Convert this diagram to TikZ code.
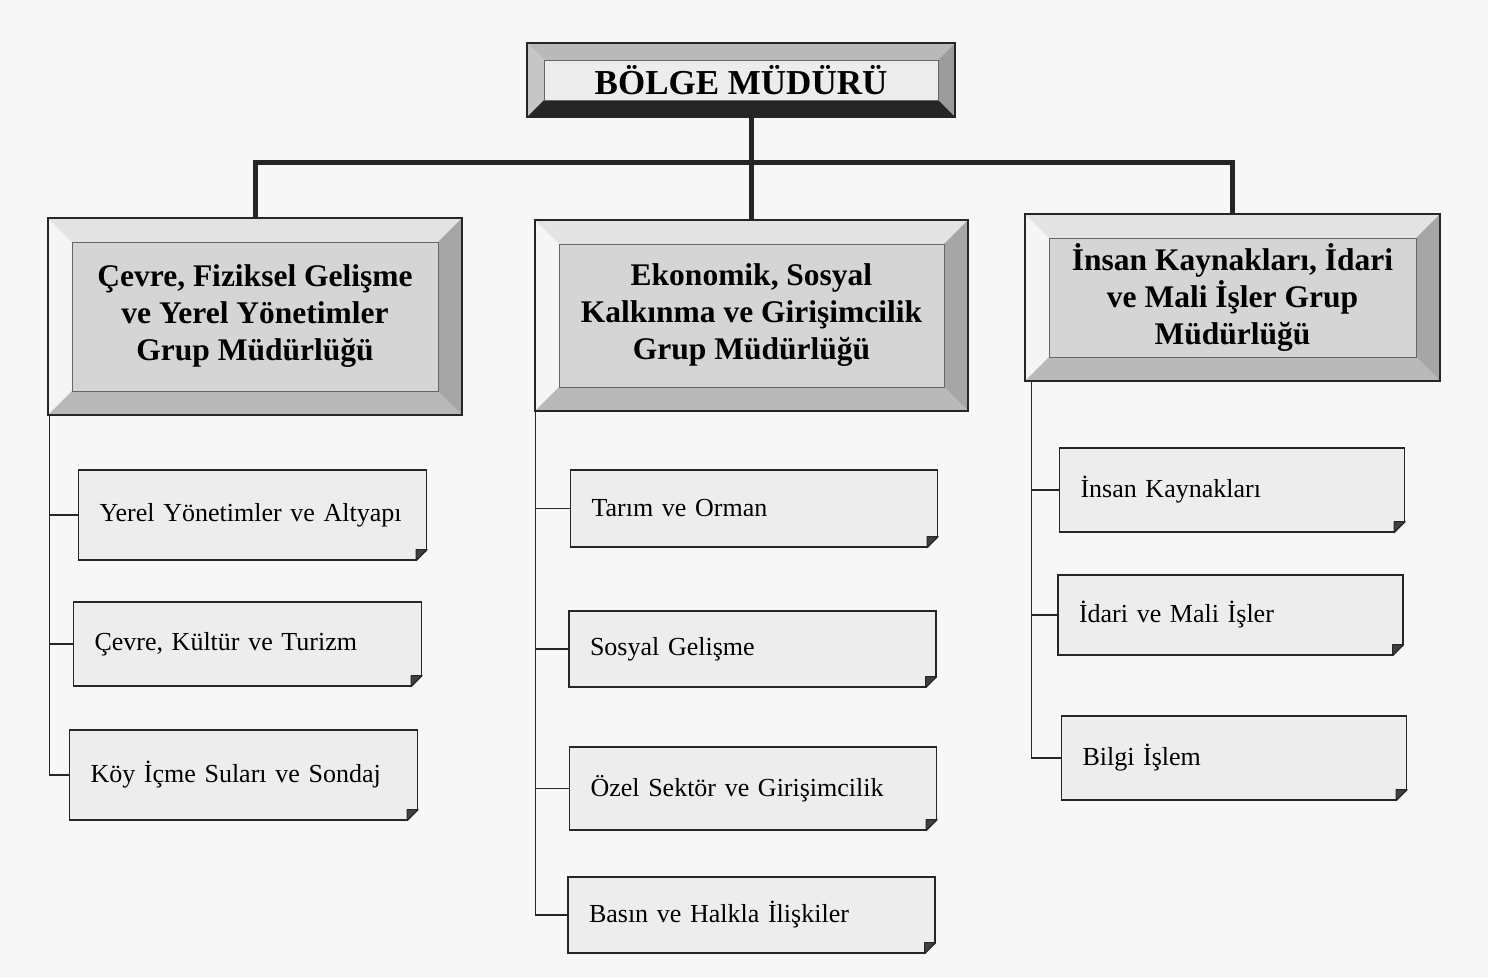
\documentclass[tikz,border=0pt]{standalone}
\usepackage{fontspec}
\setmainfont{Liberation Serif}
\usetikzlibrary{positioning,calc}
\tikzset{
    bevel/.style n args={5}{draw=black!85, line width=1.2pt, inner sep=0pt, align=center,
        path picture={
            \path (path picture bounding box.north west) coordinate (nw)
                  (path picture bounding box.north east) coordinate (ne)
                  (path picture bounding box.south west) coordinate (sw)
                  (path picture bounding box.south east) coordinate (se);
            \fill[#2] (nw) -- (ne) -- ([shift={(-#1,-#1)}]ne) -- ([shift={(#1,-#1)}]nw) -- cycle;
            \fill[#3] (nw) -- (sw) -- ([shift={(#1,#1)}]sw) -- ([shift={(#1,-#1)}]nw) -- cycle;
            \fill[#4] (ne) -- (se) -- ([shift={(-#1,#1)}]se) -- ([shift={(-#1,-#1)}]ne) -- cycle;
            \fill[#5] (sw) -- (se) -- ([shift={(-#1,#1)}]se) -- ([shift={(#1,#1)}]sw) -- cycle;
            \draw[black!60, line width=0.6pt] ([shift={(#1,-#1)}]nw) rectangle ([shift={(-#1,#1)}]se);
        }},
    topbox/.style={bevel={17pt}{gray!55}{gray!45}{gray!78}{black!85}, fill=gray!15,
        font=\bfseries\fontsize{35}{42}\selectfont},
    groupbox/.style={bevel={24pt}{gray!22}{gray!8}{gray!70}{gray!55}, fill=gray!33,
        font=\bfseries\fontsize{31.5}{37}\selectfont},
    subbox/.style={draw=black!85, line width=1.2pt, fill=gray!14, inner xsep=21pt, align=left,
        font=\fontsize{26}{31}\selectfont},
    colA/.style={subbox, text width=306pt},
    colB/.style={subbox, text width=325pt},
    colC/.style={subbox, text width=303pt},
    mainline/.style={line width=5pt, black!85},
    branch/.style={line width=1.6pt, black!85}
}
\begin{document}
\begin{tikzpicture}[x=1pt, y=-1pt]
\fill[white!97!black] (0,0) rectangle (1488,978);
\useasboundingbox (0,0) rectangle (1488,978);

% top
\node[topbox, minimum width=428pt, minimum height=74pt] (BM) at (741,80) {BÖLGE MÜDÜRÜ};

% group directorates
\node[groupbox, minimum width=414pt, minimum height=197pt] (G1) at (255,316.5)
    {Çevre, Fiziksel Gelişme\\ve Yerel Yönetimler\\Grup Müdürlüğü};
\node[groupbox, minimum width=433pt, minimum height=191pt] (G2) at (751.5,315.5)
    {Ekonomik, Sosyal\\Kalkınma ve Girişimcilik\\Grup Müdürlüğü};
\node[groupbox, minimum width=415pt, minimum height=167pt] (G3) at (1232.5,297.5)
    {İnsan Kaynakları, İdari\\ve Mali İşler Grup\\Müdürlüğü};

\coordinate (bar) at (750,162);
\draw[mainline] (G2.north) -- (G2.north |- BM.south);
\draw[mainline] (G2.north |- bar) -| (G1.north);
\draw[mainline] (G2.north |- bar) -| (G3.north);

% units
\node[colA, minimum height=90pt] (S11) at (252.5,515) {Yerel Yönetimler ve Altyapı};
\node[colA, minimum height=84pt] (S12) at (247.5,644) {Çevre, Kültür ve Turizm};
\node[colA, minimum height=90pt] (S13) at (243.5,775) {Köy İçme Suları ve Sondaj};

\node[colB, minimum height=77pt] (S21) at (754,508.5) {Tarım ve Orman};
\node[colB, minimum height=76pt] (S22) at (752.5,649) {Sosyal Gelişme};
\node[colB, minimum height=83pt] (S23) at (753,788.5) {Özel Sektör ve Girişimcilik};
\node[colB, minimum height=76pt] (S24) at (751.5,915) {Basın ve Halkla İlişkiler};

\node[colC, minimum height=84pt] (S31) at (1232,490) {İnsan Kaynakları};
\node[colC, minimum height=80pt] (S32) at (1230.5,615) {İdari ve Mali İşler};
\node[colC, minimum height=84pt] (S33) at (1234,758) {Bilgi İşlem};

% folded corners
\foreach \s in {S11,S12,S13,S21,S22,S23,S24,S31,S32,S33} {
    \fill[white!97!black] ([shift={(1pt,11pt)}]\s.south east) -- ([shift={(-11pt,-1pt)}]\s.south east)
        -- ([shift={(1pt,-1pt)}]\s.south east) -- cycle;
    \filldraw[fill=black!75, draw=black!85, line width=1.2pt, line join=round]
        ([yshift=11pt]\s.south east) -- ([shift={(-11pt,11pt)}]\s.south east)
        -- ([xshift=-11pt]\s.south east) -- cycle;
}

\foreach \s in {S11,S12,S13}
    \draw[branch] ([xshift=2pt]G1.south west) |- (\s.west);
\foreach \s in {S21,S22,S23,S24}
    \draw[branch] ([xshift=1pt]G2.south west) |- (\s.west);
\foreach \s in {S31,S32,S33}
    \draw[branch] ([xshift=7pt]G3.south west) |- (\s.west);
\end{tikzpicture}
\end{document}
